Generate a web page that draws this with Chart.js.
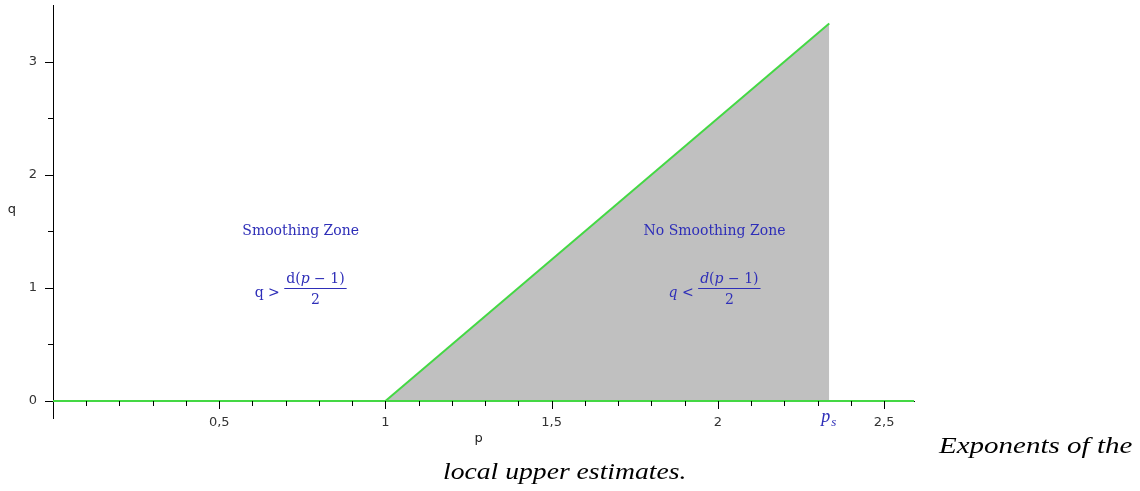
<!DOCTYPE html>
<html>
<head>
<meta charset="utf-8">
<script src="https://cdn.jsdelivr.net/npm/chart.js@4.4.1/dist/chart.umd.min.js"></script>
<style>
    html, body { margin: 0; padding: 0; background: #fff; width: 1140px; height: 491px; overflow: hidden; }
    #wrap { position: absolute; left: 0; top: 0; width: 940px; height: 460px; }
    .cap { position: absolute; font-family: "Liberation Serif", serif; font-style: italic; font-size: 23px; color: #000; white-space: nowrap; line-height: 1; transform-origin: 0 0; }
</style>
</head>
<body>
<div id="wrap"><canvas id="chart"></canvas></div>
<div class="cap" id="cap1" style="left:939px; top:434px;">Exponents of the</div>
<div class="cap" id="cap2" style="left:443px; top:460px;">local upper estimates.</div>

<script>
// Données : la droite q = d(p-1)/2 et la ligne de base q = 0
const baselineP = [0, 2.59];
const baselineQ = [0, 0];
const boundaryP = [1, 2.335];
const boundaryQ = [0, 3.3375];

// Graduations
const xTickValues = [0.1, 0.2, 0.3, 0.4, 0.5, 0.6, 0.7, 0.8, 0.9, 1, 1.1, 1.2, 1.3, 1.4, 1.5,
                     1.6, 1.7, 1.8, 1.9, 2, 2.1, 2.2, 2.3, 2.4, 2.5];
const xMajorTicks = [0.5, 1, 1.5, 2, 2.5];
const xTickLabels = ['0,5', '1', '1,5', '2', '2,5'];
const yTickValues = [0, 0.5, 1, 1.5, 2, 2.5, 3];
const yMajorTicks = [0, 1, 2, 3];
const yTickLabels = ['0', '1', '2', '3'];
const psValue = 2.335;

const lineGreen = '#44d844';
const shadeGrey = '#c0c0c0';
const noteBlue = '#2e2eb8';
const tickFont = { family: 'DejaVu Sans', size: 13 };

// Annotations des zones (position en coordonnées des axes)
const notes = [
    { title: 'Smoothing Zone', rel: '>', italic: false, p: 0.745, q: 1.5, fq: 1.0 },
    { title: 'No Smoothing Zone', rel: '<', italic: true, p: 1.99, q: 1.5, fq: 1.0 }
];

function toPoints(xs, ys) {
    return xs.map((v, i) => ({ x: v, y: ys[i] }));
}

function drawFormula(ctx, cx, by, italic) {
    const roman = '14px "DejaVu Serif"';
    const ital = 'italic 14px "DejaVu Serif"';
    const lead = italic ? ital : roman;
    const numParts = [[lead, 'd'], [roman, '('], [ital, 'p'], [roman, ' \u2212 1)']];
    let numW = 0;
    numParts.forEach(([f, s]) => { ctx.font = f; numW += ctx.measureText(s).width; });
    const barW = numW + 4;
    ctx.font = lead;
    const qW = ctx.measureText('q').width;
    ctx.font = roman;
    const relW = ctx.measureText(' > ').width;
    const total = qW + relW + barW;
    let x = cx - total / 2;
    ctx.textAlign = 'left';
    ctx.textBaseline = 'alphabetic';
    ctx.font = lead;
    ctx.fillText('q', x, by + 9);
    x += qW;
    ctx.font = roman;
    ctx.fillText(italic ? ' < ' : ' > ', x, by + 9);
    x += relW;
    // barre de fraction
    ctx.fillRect(x, by, barW, 1);
    let nx = x + 2;
    numParts.forEach(([f, s]) => {
        ctx.font = f;
        ctx.fillText(s, nx, by - 5);
        nx += ctx.measureText(s).width;
    });
    ctx.font = roman;
    ctx.textAlign = 'center';
    ctx.fillText('2', x + barW / 2, by + 16);
}

const overlay = {
    id: 'overlay',
    afterDraw(chart) {
        const { ctx, scales: { x, y } } = chart;
        const y0 = y.getPixelForValue(0);
        const x0 = x.getPixelForValue(0);
        ctx.save();

        // petites graduations
        ctx.strokeStyle = '#000';
        ctx.lineWidth = 1;
        ctx.beginPath();
        xTickValues.forEach(v => {
            const px = Math.round(x.getPixelForValue(v)) + 0.5;
            const len = xMajorTicks.includes(v) ? 8 : 5;
            ctx.moveTo(px, Math.round(y0));
            ctx.lineTo(px, Math.round(y0) + len);
        });
        yTickValues.forEach(v => {
            const py = Math.round(y.getPixelForValue(v)) + 0.5;
            const len = yMajorTicks.includes(v) ? 8 : 5;
            ctx.moveTo(Math.round(x0), py);
            ctx.lineTo(Math.round(x0) - len, py);
        });
        ctx.stroke();

        // titres des axes
        ctx.fillStyle = '#222';
        ctx.font = '13px "DejaVu Sans"';
        ctx.textAlign = 'center';
        ctx.textBaseline = 'middle';
        ctx.fillText('p', x.getPixelForValue(1.28), y0 + 38);
        ctx.fillText('q', 12, y.getPixelForValue(1.69));

        // p_s
        const psx = x.getPixelForValue(psValue);
        ctx.fillStyle = noteBlue;
        ctx.font = 'italic 18px "Liberation Serif"';
        ctx.textAlign = 'left';
        ctx.textBaseline = 'alphabetic';
        ctx.fillText('p', psx - 8, y0 + 21);
        ctx.font = 'italic 13px "Liberation Serif"';
        ctx.fillText('s', psx + 2, y0 + 25);

        // zones
        notes.forEach(n => {
            const cx = x.getPixelForValue(n.p);
            ctx.fillStyle = noteBlue;
            ctx.font = '14px "DejaVu Serif"';
            ctx.textAlign = 'center';
            ctx.textBaseline = 'middle';
            ctx.fillText(n.title, cx, y.getPixelForValue(n.q));
            drawFormula(ctx, cx, Math.round(y.getPixelForValue(n.fq)), n.italic);
        });
        ctx.restore();
    }
};

const chart = new Chart(document.getElementById('chart'), {
    type: 'line',
    data: {
        datasets: [
            {
                data: toPoints(baselineP, baselineQ),
                borderColor: lineGreen,
                borderWidth: 2,
                pointRadius: 0,
                fill: false
            },
            {
                data: toPoints(boundaryP, boundaryQ),
                borderColor: lineGreen,
                borderWidth: 2,
                pointRadius: 0,
                fill: { value: 0 },
                backgroundColor: shadeGrey
            }
        ]
    },
    options: {
        responsive: true,
        maintainAspectRatio: false,
        animation: false,
        layout: { padding: { left: 0, top: 5, right: 26, bottom: 42 } },
        plugins: {
            legend: { display: false },
            tooltip: { enabled: false }
        },
        scales: {
            x: {
                type: 'linear',
                min: 0,
                max: 2.59,
                position: { y: 0 },
                afterFit: s => { s.height = 0; s.paddingLeft = 0; s.paddingRight = 0; },
                grid: { display: false, drawTicks: false },
                border: { display: true, color: '#000', width: 1 },
                afterBuildTicks: s => { s.ticks = xTickValues.map(v => ({ value: v })); },
                ticks: {
                    autoSkip: false,
                    maxRotation: 0,
                    padding: 14,
                    color: '#333',
                    font: tickFont,
                    callback: v => {
                        const i = xMajorTicks.indexOf(v);
                        return i >= 0 ? xTickLabels[i] : '';
                    }
                }
            },
            y: {
                type: 'linear',
                min: -0.15,
                max: 3.5,
                position: 'left',
                afterFit: s => { s.width = 53; s.paddingTop = 0; s.paddingBottom = 0; },
                grid: { display: false, drawTicks: false },
                border: { display: true, color: '#000', width: 1 },
                afterBuildTicks: s => { s.ticks = yTickValues.map(v => ({ value: v })); },
                ticks: {
                    autoSkip: false,
                    padding: 16,
                    color: '#333',
                    font: tickFont,
                    callback: v => {
                        const i = yMajorTicks.indexOf(v);
                        return i >= 0 ? yTickLabels[i] : '';
                    }
                }
            }
        }
    },
    plugins: [overlay]
});

// élargir la légende à la largeur de l'original
[['cap1', 193], ['cap2', 244]].forEach(([id, w]) => {
    const el = document.getElementById(id);
    el.style.transform = 'scaleX(' + (w / el.offsetWidth) + ')';
});
</script>
</body>
</html>
